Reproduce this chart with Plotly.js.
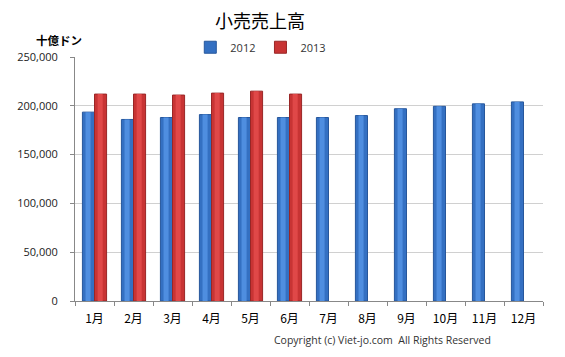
<!DOCTYPE html>
<html>
<head>
<meta charset="utf-8">
<script src="https://cdn.plot.ly/plotly-3.0.1.min.js"></script>
<style>html,body{margin:0;padding:0;background:#fff;}#chart{width:565px;height:357px;}</style>
</head>
<body>
<div id="chart"></div>
<script>
const months = ["1月","2月","3月","4月","5月","6月","7月","8月","9月","10月","11月","12月"];
const sales2012 = [193500,186000,188000,191000,188000,188000,188000,190000,197000,199500,202000,204000];
const sales2013 = [212000,212000,211000,213000,215000,212000,null,null,null,null,null,null];
const yTicks = [0,50000,100000,150000,200000,250000];
const yTickLabels = ["0","50,000","100,000","150,000","200,000","250,000"];

const BW = 0.31;   // bar width in category units
const HW = 0.13;   // highlight width
const traces = [
  {type:"bar", name:"2012", x:months, y:sales2012, width:BW, offset:-BW,
   marker:{color:"#3470c2", line:{color:"#27579c", width:1}}},
  {type:"bar", name:"2013", x:months, y:sales2013, width:BW, offset:0,
   marker:{color:"#c83434", line:{color:"#992626", width:1}}},
  {type:"bar", name:"2012h", x:months, y:sales2012, width:HW, offset:-BW/2-HW/2-0.01,
   showlegend:false, hoverinfo:"skip",
   marker:{color:"#4f8ee0", line:{width:0}}},
  {type:"bar", name:"2013h", x:months, y:sales2013, width:HW, offset:BW/2-HW/2-0.01,
   showlegend:false, hoverinfo:"skip",
   marker:{color:"#e04848", line:{width:0}}}
];

const layout = {
  width:565, height:357,
  margin:{l:75, r:22, t:57, b:56},
  paper_bgcolor:"#fff", plot_bgcolor:"#fff",
  barmode:"overlay",
  title:{text:"小売売上高", font:{family:"Noto Sans CJK JP", size:18, color:"#000"},
         x:0.46, xref:"container", xanchor:"center", y:0.94, yref:"container", yanchor:"middle"},
  showlegend:true,
  legend:{orientation:"h", x:0.397, xanchor:"center", y:1.04, yanchor:"middle",
          font:{family:"Open Sans", size:11, color:"#333"}, itemwidth:30, tracegroupgap:0},
  xaxis:{type:"category", showgrid:false, showline:true, linecolor:"#888", linewidth:1,
         ticks:"outside", tickson:"boundaries", ticklen:4, tickcolor:"#888",
         tickfont:{family:"Noto Sans CJK JP", size:12, color:"#000"}, ticklabelstandoff:7},
  yaxis:{range:[0,250000], tickvals:yTicks, ticktext:yTickLabels, showgrid:true,
         gridcolor:"#d0d0d0", showline:true, linecolor:"#888", linewidth:1,
         ticks:"outside", ticklen:4, tickcolor:"#888", zeroline:false,
         tickfont:{family:"Open Sans", size:11, color:"#222"}, ticklabelstandoff:10},
  annotations:[
    {text:"<b>十億ドン</b>", xref:"paper", yref:"paper", x:-0.035, y:1.07, xanchor:"center", yanchor:"middle",
     showarrow:false, font:{family:"Noto Sans CJK JP", size:11.5, color:"#000"}},
    {text:"Copyright (c) Viet-jo.com  All Rights Reserved", xref:"paper", yref:"paper", x:0.893, y:-0.16,
     xanchor:"right", yanchor:"middle", showarrow:false,
     font:{family:"Open Sans", size:10.5, color:"#333"}}
  ]
};
Plotly.newPlot("chart", traces, layout, {displayModeBar:false, staticPlot:true});
</script>
</body>
</html>
